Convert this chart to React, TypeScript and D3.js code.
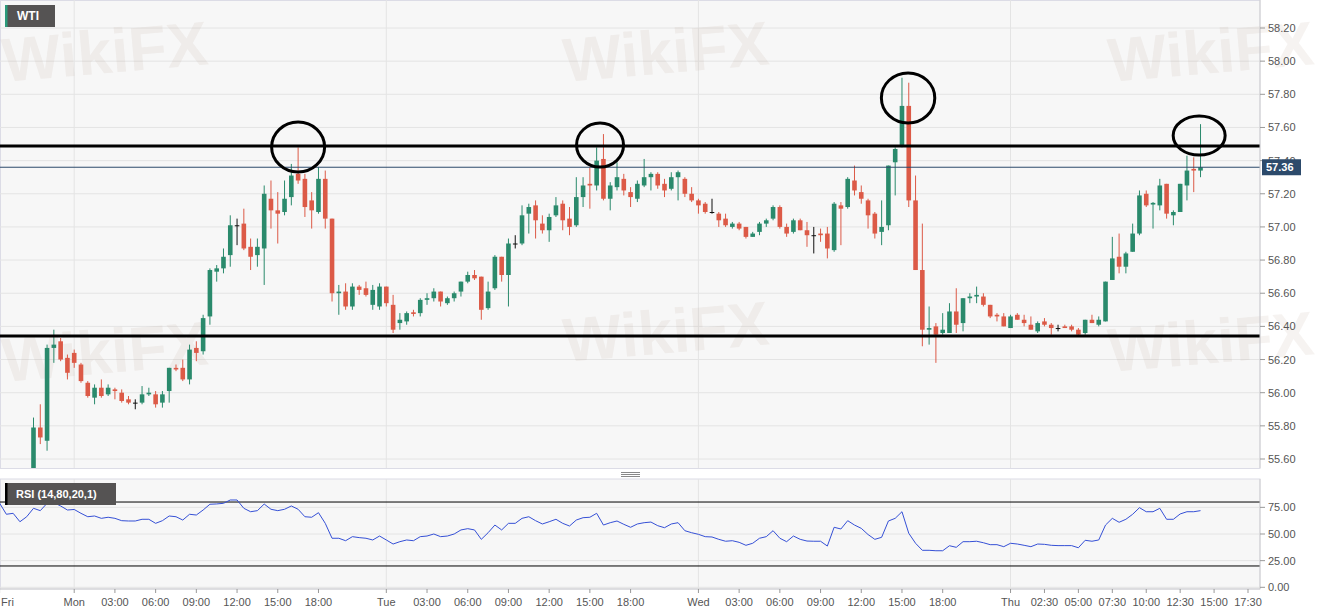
import React from "react";
import * as d3 from "d3";

// 30-minute WTI candles: [open, high, low, close]
const candles: [number, number, number, number][] = [
  [55.48, 55.85, 55.45, 55.79], [55.79, 55.93, 55.69, 55.73], [55.71, 56.29, 55.65, 56.27], [56.27, 56.38, 56.18, 56.29],
  [56.31, 56.33, 56.19, 56.20], [56.21, 56.23, 56.08, 56.12], [56.24, 56.26, 56.15, 56.18], [56.17, 56.18, 56.06, 56.07],
  [56.06, 56.07, 55.97, 55.98], [55.97, 56.05, 55.93, 56.03], [56.03, 56.08, 55.97, 55.98], [55.99, 56.05, 55.98, 56.03],
  [56.02, 56.03, 55.96, 56.01], [56.00, 56.02, 55.94, 55.95], [55.96, 55.98, 55.93, 55.94], [55.94, 55.96, 55.90, 55.94],
  [55.94, 56.04, 55.93, 55.99], [55.99, 56.03, 55.98, 56.00], [55.99, 56.01, 55.91, 55.93], [55.94, 56.01, 55.91, 55.99],
  [56.01, 56.15, 55.94, 56.15], [56.15, 56.17, 56.13, 56.14], [56.15, 56.20, 56.07, 56.08], [56.08, 56.29, 56.05, 56.26],
  [56.27, 56.31, 56.19, 56.24], [56.25, 56.47, 56.23, 56.45], [56.46, 56.75, 56.41, 56.74], [56.73, 56.77, 56.67, 56.75],
  [56.75, 56.87, 56.72, 56.82], [56.83, 57.07, 56.76, 57.01], [57.01, 57.05, 56.89, 57.01], [57.02, 57.11, 56.86, 56.87],
  [56.88, 56.93, 56.74, 56.82], [56.83, 56.93, 56.76, 56.88], [56.87, 57.25, 56.65, 57.20], [57.17, 57.28, 56.99, 57.10],
  [57.10, 57.21, 56.90, 57.08], [57.09, 57.28, 57.07, 57.17], [57.18, 57.38, 57.13, 57.31], [57.32, 57.48, 57.26, 57.28],
  [57.29, 57.32, 57.06, 57.12], [57.16, 57.21, 56.99, 57.10], [57.09, 57.36, 57.08, 57.29], [57.29, 57.34, 56.99, 57.05],
  [57.05, 57.05, 56.55, 56.60], [56.60, 56.65, 56.47, 56.61], [56.61, 56.66, 56.50, 56.52], [56.52, 56.66, 56.50, 56.64],
  [56.64, 56.65, 56.59, 56.62], [56.63, 56.67, 56.58, 56.59], [56.53, 56.65, 56.50, 56.62], [56.52, 56.66, 56.50, 56.64],
  [56.64, 56.64, 56.52, 56.54], [56.53, 56.59, 56.36, 56.38], [56.42, 56.48, 56.38, 56.44], [56.43, 56.49, 56.41, 56.48],
  [56.485, 56.50, 56.46, 56.475], [56.48, 56.57, 56.46, 56.56], [56.56, 56.60, 56.53, 56.57], [56.57, 56.63, 56.55, 56.61],
  [56.61, 56.61, 56.52, 56.55], [56.54, 56.58, 56.53, 56.57], [56.57, 56.61, 56.55, 56.60], [56.61, 56.67, 56.58, 56.67],
  [56.67, 56.73, 56.66, 56.71], [56.71, 56.74, 56.68, 56.69], [56.70, 56.70, 56.44, 56.50], [56.51, 56.67, 56.50, 56.61],
  [56.63, 56.83, 56.62, 56.82], [56.82, 56.82, 56.67, 56.71], [56.71, 56.93, 56.52, 56.90], [56.90, 56.95, 56.87, 56.90],
  [56.90, 57.13, 56.89, 57.07], [57.08, 57.14, 56.96, 57.12], [57.13, 57.16, 56.93, 57.04], [57.02, 57.07, 56.96, 56.98],
  [56.98, 57.08, 56.91, 57.06], [57.07, 57.18, 57.06, 57.13], [57.14, 57.16, 56.98, 57.04], [57.05, 57.12, 56.95, 57.00],
  [57.01, 57.30, 57.00, 57.18], [57.18, 57.30, 57.12, 57.25], [57.26, 57.36, 57.11, 57.25], [57.25, 57.48, 57.22, 57.40],
  [57.41, 57.56, 57.16, 57.17], [57.17, 57.27, 57.10, 57.25], [57.24, 57.39, 57.22, 57.30], [57.29, 57.32, 57.19, 57.22],
  [57.21, 57.24, 57.12, 57.18], [57.17, 57.28, 57.15, 57.26], [57.25, 57.41, 57.24, 57.30], [57.30, 57.33, 57.22, 57.32],
  [57.32, 57.33, 57.23, 57.25], [57.26, 57.29, 57.18, 57.22], [57.23, 57.33, 57.22, 57.30], [57.30, 57.34, 57.16, 57.33],
  [57.29, 57.30, 57.18, 57.20], [57.20, 57.24, 57.15, 57.16], [57.16, 57.17, 57.08, 57.13], [57.14, 57.15, 57.08, 57.09],
  [57.09, 57.17, 57.08, 57.09], [57.08, 57.09, 57.00, 57.04], [57.05, 57.08, 57.00, 57.01], [57.00, 57.03, 56.99, 57.02],
  [57.02, 57.03, 56.98, 56.99], [57.00, 57.00, 56.93, 56.94], [56.94, 56.97, 56.94, 56.96], [56.97, 57.03, 56.95, 57.02],
  [57.02, 57.05, 57.00, 57.04], [57.05, 57.13, 57.04, 57.12], [57.12, 57.13, 56.99, 57.00], [57.00, 57.02, 56.94, 56.96],
  [56.97, 57.05, 56.96, 57.04], [57.04, 57.05, 56.98, 56.98], [56.98, 57.03, 56.88, 56.95], [56.95, 57.00, 56.84, 56.95],
  [56.96, 56.99, 56.91, 56.95], [56.96, 57.00, 56.81, 56.87], [56.86, 57.15, 56.85, 57.14], [57.13, 57.15, 56.89, 57.11],
  [57.12, 57.30, 57.11, 57.29], [57.28, 57.37, 57.19, 57.22], [57.21, 57.25, 57.14, 57.17], [57.16, 57.17, 56.99, 57.07],
  [57.08, 57.09, 56.93, 56.96], [56.97, 57.16, 56.89, 57.00], [57.01, 57.37, 56.98, 57.37], [57.39, 57.48, 57.19, 57.47],
  [57.49, 57.90, 57.48, 57.73], [57.73, 57.87, 57.12, 57.16], [57.16, 57.31, 56.74, 56.74], [56.74, 57.02, 56.28, 56.38],
  [56.38, 56.52, 56.29, 56.39], [56.40, 56.42, 56.18, 56.35], [56.36, 56.48, 56.35, 56.38], [56.36, 56.54, 56.36, 56.49],
  [56.49, 56.63, 56.36, 56.41], [56.42, 56.57, 56.37, 56.57], [56.57, 56.60, 56.54, 56.58], [56.58, 56.64, 56.54, 56.59],
  [56.58, 56.60, 56.52, 56.53], [56.53, 56.53, 56.45, 56.46], [56.47, 56.48, 56.43, 56.46], [56.46, 56.48, 56.40, 56.40],
  [56.39, 56.47, 56.39, 56.46], [56.47, 56.48, 56.44, 56.44], [56.44, 56.47, 56.40, 56.42], [56.41, 56.46, 56.38, 56.38],
  [56.37, 56.43, 56.36, 56.42], [56.43, 56.45, 56.40, 56.41], [56.41, 56.42, 56.35, 56.39], [56.39, 56.41, 56.37, 56.39],
  [56.40, 56.41, 56.39, 56.39], [56.40, 56.41, 56.37, 56.38], [56.38, 56.39, 56.34, 56.35], [56.36, 56.44, 56.35, 56.44],
  [56.44, 56.47, 56.42, 56.42], [56.41, 56.46, 56.40, 56.44], [56.43, 56.67, 56.43, 56.67], [56.68, 56.94, 56.68, 56.81],
  [56.82, 56.96, 56.72, 56.76], [56.76, 56.85, 56.72, 56.84], [56.85, 57.02, 56.85, 56.96], [56.96, 57.22, 56.95, 57.19],
  [57.20, 57.22, 57.12, 57.13], [57.135, 57.15, 56.99, 57.145], [57.13, 57.29, 57.10, 57.25], [57.26, 57.26, 57.05, 57.08],
  [57.07, 57.10, 57.01, 57.09], [57.09, 57.26, 57.09, 57.26], [57.25, 57.43, 57.16, 57.34], [57.35, 57.42, 57.21, 57.34],
  [57.34, 57.62, 57.30, 57.36],
];

// RSI(14) values, first value sits 5 bars before the first visible candle
const rsiStart = -5;
const rsi = [
  79.0, 68.5, 69.4, 61.5, 66.2,
  74.1, 71.9, 78.8, 79.4, 76.3, 72.5, 73.0, 69.4, 66.2, 66.9,
  64.7, 65.7, 64.7, 62.5, 62.2, 62.2, 63.8, 63.8, 60.0, 62.5,
  66.9, 66.2, 63.1, 68.5, 67.8, 72.5, 77.9, 78.2, 78.8, 81.9,
  81.9, 74.1, 70.9, 71.9, 78.1, 73.2, 71.9, 73.2, 76.3, 73.2,
  66.2, 65.7, 70.0, 60.0, 46.0, 46.0, 43.7, 47.5, 46.6, 46.0,
  44.4, 48.1, 44.4, 40.6, 42.8, 44.4, 43.7, 47.5, 48.1, 50.0,
  47.5, 48.1, 50.0, 53.8, 55.0, 53.8, 45.0, 51.2, 58.4, 53.8,
  60.0, 60.0, 64.7, 66.2, 62.5, 59.4, 61.5, 63.8, 60.0, 57.5,
  63.1, 65.3, 65.7, 69.4, 58.4, 60.6, 62.2, 59.1, 56.3, 59.4,
  60.6, 61.2, 57.8, 55.9, 59.4, 60.6, 53.1, 51.2, 49.7, 47.5,
  47.2, 45.0, 43.2, 43.7, 42.2, 39.4, 41.3, 46.0, 47.5, 53.1,
  46.0, 42.8, 48.1, 45.0, 43.4, 43.2, 43.2, 38.7, 56.3, 54.7,
  62.5, 58.4, 55.3, 49.5, 45.0, 46.9, 62.2, 64.7, 70.9, 50.7,
  41.3, 34.7, 34.7, 34.3, 34.3, 39.0, 37.5, 42.8, 42.8, 43.2,
  41.8, 40.0, 40.0, 38.1, 41.3, 40.6, 39.4, 38.1, 40.6, 40.3,
  39.4, 39.1, 39.1, 39.1, 37.1, 44.1, 43.2, 44.4, 58.4, 64.7,
  61.0, 63.8, 68.5, 74.7, 70.9, 70.9, 74.1, 63.8, 63.8, 68.8,
  70.9, 70.9, 71.9,
];

const priceTicks = [55.6, 55.8, 56.0, 56.2, 56.4, 56.6, 56.8, 57.0, 57.2, 57.4, 57.6, 57.8, 58.0, 58.2];
const rsiTicks = [0, 25, 50, 75];
const rsiBands = [80, 20];

// bar index of each time label
const timeTicks = [
  { label: "Fri", i: -5 }, { label: "Mon", i: 6 }, { label: "03:00", i: 12 }, { label: "06:00", i: 18 },
  { label: "09:00", i: 24 }, { label: "12:00", i: 30 }, { label: "15:00", i: 36 }, { label: "18:00", i: 42 },
  { label: "Tue", i: 52 }, { label: "03:00", i: 58 }, { label: "06:00", i: 64 }, { label: "09:00", i: 70 },
  { label: "12:00", i: 76 }, { label: "15:00", i: 82 }, { label: "18:00", i: 88 },
  { label: "Wed", i: 98 }, { label: "03:00", i: 104 }, { label: "06:00", i: 110 }, { label: "09:00", i: 116 },
  { label: "12:00", i: 122 }, { label: "15:00", i: 128 }, { label: "18:00", i: 134 },
  { label: "Thu", i: 144 }, { label: "02:30", i: 149 }, { label: "05:00", i: 154 }, { label: "07:30", i: 159 },
  { label: "10:00", i: 164 }, { label: "12:30", i: 169 }, { label: "15:00", i: 174 }, { label: "17:30", i: 179 },
];
const dayStarts = [6, 52, 98, 144];

const levels = [57.488, 56.342];
const lastPrice = 57.36;
const highlights = [
  { i: 39.0, p: 57.482, rx: 26.5, ry: 25 },
  { i: 83.5, p: 57.494, rx: 23.5, ry: 22 },
  { i: 128.9, p: 57.778, rx: 26.7, ry: 25 },
  { i: 171.8, p: 57.551, rx: 26, ry: 19.5 },
];
const watermarks = [
  { x: 565, y: 82 }, { x: 4, y: 82 }, { x: 1110, y: 82 },
  { x: 565, y: 362 }, { x: 4, y: 382 }, { x: 1110, y: 372 },
];

const W = 1331;
const H = 615;
const plotRight = 1260;
const mainBottom = 468;
const rsiTop = 479;
const rsiBottom = 589;
const font = "'Liberation Sans', Arial, sans-serif";
const UP = "#2a8a6c";
const DOWN = "#dc5a47";

const App = () => {
  const x = d3.scaleLinear().domain([0, 172]).range([33.5, 33.5 + 172 * 6.785]);
  const yP = d3.scaleLinear().domain([55.6, 58.2]).range([459, 28]);
  const yR = d3.scaleLinear().domain([0, 100]).range([587.3, 480.7]);
  const bodyW = 4.6;

  const rsiLine = d3
    .line<number>()
    .x((_, k) => x(k + rsiStart))
    .y((d) => yR(d));

  return (
    <div style={{ width: W, height: H }}>
      <style>{`body{margin:0}`}</style>
      <svg width={W} height={H} style={{ display: "block", fontFamily: font }}>
        <defs>
          <clipPath id="mainClip">
            <rect x={0} y={0} width={plotRight} height={mainBottom} />
          </clipPath>
          <clipPath id="rsiClip">
            <rect x={0} y={rsiTop} width={plotRight} height={rsiBottom - rsiTop} />
          </clipPath>
        </defs>
        <rect width={W} height={H} fill="#ffffff" />

        {/* main panel */}
        <rect x={0.5} y={0.5} width={plotRight - 0.5} height={mainBottom} fill="#f7f7f7" stroke="#dcdce6" />
        {priceTicks.map((p) => (
          <line key={p} x1={0} x2={plotRight} y1={yP(p)} y2={yP(p)} stroke="#e4e4e4" />
        ))}
        {dayStarts.map((i) => (
          <line key={i} x1={x(i)} x2={x(i)} y1={0} y2={mainBottom} stroke="#e4e4e4" />
        ))}
        {watermarks.map((w, k) => (
          <text key={k} x={w.x} y={w.y} fontSize={62} fontWeight="bold" fill="rgba(185,160,150,0.13)"
            transform={`rotate(-5 ${w.x} ${w.y})`}>WikiFX</text>
        ))}
        <g clipPath="url(#mainClip)">
          {candles.map(([o, h, l, c], i) => {
            const doji = Math.abs(o - c) < 0.005;
            const col = doji ? "#111" : c > o ? UP : DOWN;
            const top = yP(Math.max(o, c));
            const bh = Math.max(1, Math.abs(yP(o) - yP(c)));
            const cx = x(i);
            return (
              <g key={i}>
                <line x1={cx} x2={cx} y1={yP(h)} y2={yP(l)} stroke={col} strokeWidth={1} />
                <rect x={cx - bodyW / 2} y={top} width={bodyW} height={bh} fill={col} />
              </g>
            );
          })}
          <line x1={0} x2={plotRight} y1={yP(lastPrice)} y2={yP(lastPrice)} stroke="#2c4a6b" strokeWidth={1} />
          {levels.map((p) => (
            <line key={p} x1={0} x2={plotRight} y1={yP(p)} y2={yP(p)} stroke="#000" strokeWidth={3} />
          ))}
          {highlights.map((e, k) => (
            <ellipse key={k} cx={x(e.i)} cy={yP(e.p)} rx={e.rx} ry={e.ry} fill="none" stroke="#000" strokeWidth={3} />
          ))}
        </g>
        <line x1={plotRight} x2={plotRight} y1={0} y2={mainBottom} stroke="#cfcfcf" />
        {priceTicks.map((p) => (
          <g key={p}>
            <line x1={plotRight} x2={plotRight + 5} y1={yP(p)} y2={yP(p)} stroke="#999" />
            <text x={plotRight + 8} y={yP(p) + 4} fontSize={11} fill="#555">{p.toFixed(2)}</text>
          </g>
        ))}
        <rect x={plotRight + 2} y={yP(lastPrice) - 8} width={39} height={16} fill="#2c4a6b" />
        <text x={plotRight + 6} y={yP(lastPrice) + 4} fontSize={11} fontWeight="bold" fill="#fff">{lastPrice.toFixed(2)}</text>

        {/* legend tag */}
        <rect x={5} y={5} width={50} height={22} fill="#555353" />
        <rect x={5} y={5} width={2.5} height={22} fill="#2a9a7a" />
        <text x={17} y={20} fontSize={12} fontWeight="bold" fill="#fff">WTI</text>

        {/* panel splitter */}
        <line x1={621} x2={640} y1={472.5} y2={472.5} stroke="#888" />
        <line x1={621} x2={640} y1={474.5} y2={474.5} stroke="#888" />
        <line x1={621} x2={640} y1={476.5} y2={476.5} stroke="#888" />

        {/* RSI panel */}
        <rect x={0.5} y={rsiTop} width={plotRight - 0.5} height={rsiBottom - rsiTop} fill="#f7f7f7" stroke="#dcdce6" />
        {rsiTicks.map((v) => (
          <line key={v} x1={0} x2={plotRight} y1={yR(v)} y2={yR(v)} stroke="#e4e4e4" />
        ))}
        {dayStarts.map((i) => (
          <line key={i} x1={x(i)} x2={x(i)} y1={rsiTop} y2={rsiBottom} stroke="#e4e4e4" />
        ))}
        {rsiBands.map((v) => (
          <line key={v} x1={0} x2={plotRight} y1={yR(v)} y2={yR(v)} stroke="#000" strokeWidth={1} />
        ))}
        <g clipPath="url(#rsiClip)">
          <path d={rsiLine(rsi) || ""} fill="none" stroke="#3550d6" strokeWidth={1} />
        </g>
        <line x1={plotRight} x2={plotRight} y1={rsiTop} y2={rsiBottom} stroke="#cfcfcf" />
        {rsiTicks.map((v) => (
          <g key={v}>
            <line x1={plotRight} x2={plotRight + 5} y1={yR(v)} y2={yR(v)} stroke="#999" />
            <text x={plotRight + 8} y={yR(v) + 4} fontSize={11} fill="#555">{v.toFixed(2)}</text>
          </g>
        ))}
        <rect x={5} y={483} width={111} height={22} fill="#555353" />
        <rect x={5} y={483} width={2.5} height={22} fill="#000" />
        <text x={16} y={498} fontSize={11} fontWeight="bold" fill="#fff">RSI (14,80,20,1)</text>

        {/* time axis */}
        <line x1={0} x2={plotRight} y1={rsiBottom} y2={rsiBottom} stroke="#cfcfcf" />
        {timeTicks.map((t, k) => {
          const tx = x(t.i);
          const first = tx < 12;
          return (
            <g key={k}>
              <line x1={tx} x2={tx} y1={rsiBottom} y2={rsiBottom + 4} stroke="#999" />
              <text x={first ? 1 : tx} y={606} fontSize={11} fill="#555" textAnchor={first ? "start" : "middle"}>
                {t.label}
              </text>
            </g>
          );
        })}
      </svg>
    </div>
  );
};

export default App;
